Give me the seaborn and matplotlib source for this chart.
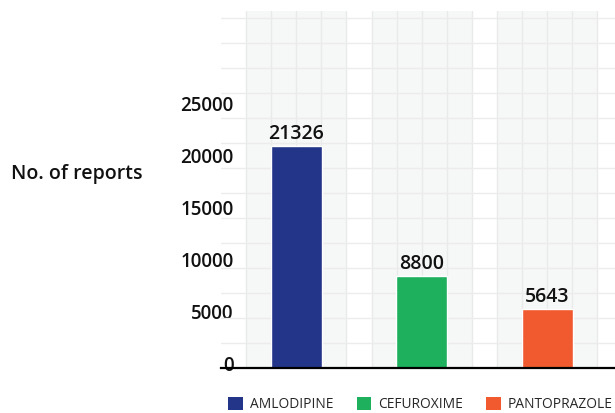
import matplotlib
matplotlib.use('Agg')
import matplotlib.pyplot as plt
import matplotlib.transforms as mtransforms
from matplotlib.patches import Patch
import numpy as np
import seaborn as sns

# Chart data
drugs = ['AMLODIPINE', 'CEFUROXIME', 'PANTOPRAZOLE']
reports = [21326, 8800, 5643]
colors = ['#233588', '#1fb05e', '#f15a2e']
y_ticks = [0, 5000, 10000, 15000, 20000, 25000]

sns.set_style('white')
plt.rcParams['font.family'] = ['Open Sans', 'DejaVu Sans']

fig = plt.figure(figsize=(6.15, 4.13), dpi=100)
ax = fig.add_axes([0.3593, 0.109, 0.6407, 0.864])

# Bars
sns.barplot(x=drugs, y=reports, hue=drugs, palette=colors, width=0.41,
            legend=False, ax=ax, zorder=3, saturation=1)

ax.set_xlim(-0.6, 2.54)
ax.set_ylim(0, 34300)

# light grey band behind each category, with its own vertical grid
for i in range(len(drugs)):
    ax.axvspan(i - 0.4, i + 0.4, color='#f6f7f7', zorder=0, lw=0)
    for off in [-0.4, -0.2, 0, 0.2, 0.4]:
        ax.axvline(i + off, color='#e9eaea', lw=1, zorder=1)

# horizontal background grid
for gy in np.arange(2400, 34300, 2400):
    ax.axhline(gy, color='#ececec', lw=1, zorder=1)
ax.grid(False)

ax.set_yticks(y_ticks)
ax.set_yticklabels([str(t) for t in y_ticks])
ax.tick_params(axis='y', length=0, pad=-9, labelsize=13.5)
shift = mtransforms.ScaledTranslation(0, 4 / 100, fig.dpi_scale_trans)
for lab in ax.get_yticklabels():
    lab.set_fontweight('semibold')
    lab.set_color('#111111')
    lab.set_transform(lab.get_transform() + shift)
ax.set_xticks([])
ax.set_xlabel('')
ax.set_ylabel('')

for s in ['top', 'right', 'left']:
    ax.spines[s].set_visible(False)
ax.spines['bottom'].set_color('black')
ax.spines['bottom'].set_linewidth(1.6)
ax.spines['bottom'].set_zorder(5)

# value labels
for i, v in enumerate(reports):
    ax.text(i, v + 250, str(v), ha='center', va='bottom', fontsize=14,
            fontweight='semibold', color='#111111', zorder=4)

fig.text(0.018, 0.578, 'No. of reports', fontsize=14, va='center',
         ha='left', fontweight='semibold', color='#111111')

handles = [Patch(facecolor=c, edgecolor='none') for c in colors]
fig.legend(handles, drugs, loc='lower left', bbox_to_anchor=(0.362, -0.012),
           ncol=3, frameon=False, fontsize=9.9, handlelength=1.06,
           handleheight=1.06, handletextpad=0.5, columnspacing=1.72,
           borderaxespad=0)

fig.savefig('out.png', dpi=100)
